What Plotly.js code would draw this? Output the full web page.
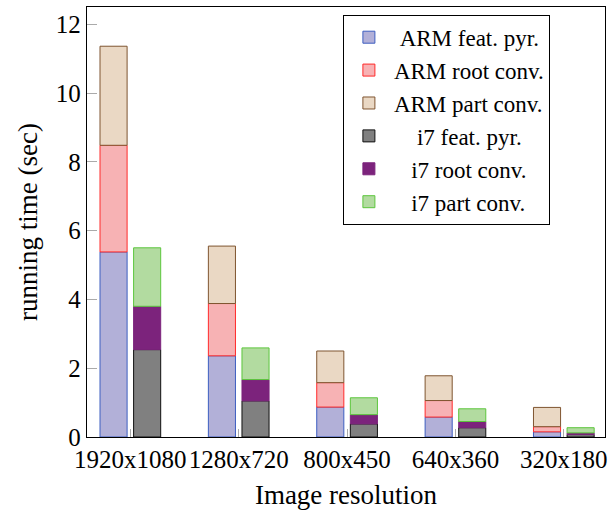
<!DOCTYPE html>
<html>
<head>
<meta charset="utf-8">
<script src="https://cdn.plot.ly/plotly-3.0.1.min.js"></script>
<style>html,body{margin:0;padding:0;background:#fff;}#chart{width:613px;height:510px;}</style>
</head>
<body>
<div id="chart"></div>
<script>
const categories = ['1920x1080', '1280x720', '800x450', '640x360', '320x180'];

const armFeatPyr  = [5.38, 2.36, 0.87, 0.58, 0.15];
const armRootConv = [3.10, 1.52, 0.71, 0.48, 0.15];
const armPartConv = [2.88, 1.67, 0.92, 0.72, 0.56];

const i7FeatPyr  = [2.54, 1.05, 0.38, 0.27, 0.07];
const i7RootConv = [1.26, 0.62, 0.27, 0.18, 0.05];
const i7PartConv = [1.70, 0.92, 0.49, 0.37, 0.15];

const seriesNames = ['ARM feat. pyr.', 'ARM root conv.', 'ARM part conv.', 'i7 feat. pyr.', 'i7 root conv.', 'i7 part conv.'];

const NB = '\u00a0';
const legendLabels = [
  NB + seriesNames[0],
  seriesNames[1],
  seriesNames[2],
  NB.repeat(4) + seriesNames[3],
  NB.repeat(3) + seriesNames[4],
  NB.repeat(3) + seriesNames[5]
];

const xIdx = categories.map((c, i) => i);

function addArr(a, b) { return a.map((v, i) => v + b[i]); }

const styles = [
  {fill: 'rgba(178,176,216,1)', line: '#3d5ec0'},
  {fill: 'rgba(247,178,180,1)', line: '#ff2a2a'},
  {fill: 'rgba(234,216,196,1)', line: '#7f5530'},
  {fill: 'rgba(128,128,128,1)', line: '#111111'},
  {fill: 'rgba(124,35,124,1)', line: '#7c237c'},
  {fill: 'rgba(178,219,160,1)', line: '#5cc63c'}
];

const armStacks = [armFeatPyr, armRootConv, armPartConv];
const i7Stacks = [i7FeatPyr, i7RootConv, i7PartConv];

const traces = [];
function pushStack(stacks, offset, startIdx) {
  let base = stacks[0].map(() => 0);
  stacks.forEach((vals, k) => {
    const si = startIdx + k;
    traces.push({
      type: 'bar',
      x: xIdx,
      y: vals,
      base: base.slice(),
      width: 0.25,
      offset: offset,
      name: legendLabels[si],
      marker: {color: styles[si].fill, line: {color: styles[si].line, width: 1}},
      hoverinfo: 'skip'
    });
    base = addArr(base, vals);
  });
}
pushStack(armStacks, -0.28, 0);
pushStack(i7Stacks, 0.03, 3);

const layout = {
  width: 613,
  height: 510,
  margin: {l: 87, r: 8, t: 7, b: 73},
  paper_bgcolor: '#ffffff',
  plot_bgcolor: '#ffffff',
  barmode: 'overlay',
  showlegend: true,
  font: {family: 'Liberation Serif, Times New Roman, serif', color: '#000', size: 25},
  xaxis: {
    range: [-0.40, 4.38],
    tickmode: 'array',
    tickvals: xIdx,
    ticktext: categories,
    ticks: 'inside',
    ticklen: 8,
    tickcolor: '#aaaaaa',
    tickfont: {size: 25},
    showgrid: false,
    zeroline: false,
    showline: true,
    linecolor: '#000',
    linewidth: 1.2,
    mirror: true,
    title: {text: 'Image resolution', font: {size: 27}, standoff: 22}
  },
  yaxis: {
    range: [0, 12.5],
    tickvals: [0, 2, 4, 6, 8, 10, 12],
    ticks: 'inside',
    ticklen: 10,
    tickcolor: '#aaaaaa',
    tickfont: {size: 25},
    showgrid: false,
    zeroline: false,
    showline: true,
    linecolor: '#000',
    linewidth: 1.2,
    mirror: true,
    title: {text: 'running time (sec)', font: {size: 27}, standoff: 10}
  },
  legend: {
    x: 0.494, y: 0.982, xanchor: 'left', yanchor: 'top',
    bgcolor: '#ffffff',
    bordercolor: '#000',
    borderwidth: 1,
    font: {size: 23},
    traceorder: 'normal',
    tracegroupgap: 0,
    itemwidth: 40
  }
};

Plotly.newPlot('chart', traces, layout, {staticPlot: true, displayModeBar: false});
</script>
</body>
</html>
